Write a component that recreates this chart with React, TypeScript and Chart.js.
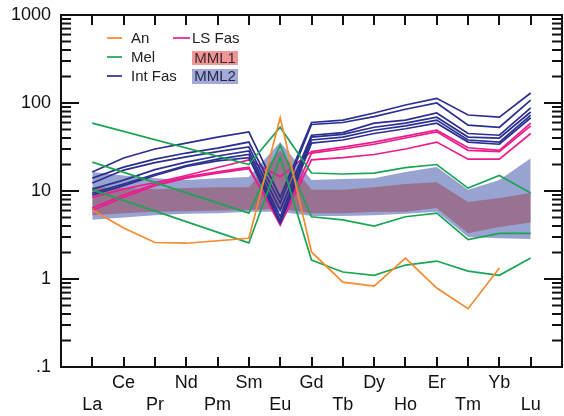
import React, { useEffect, useRef } from 'react';
import { Chart, registerables } from 'chart.js';

Chart.register(...registerables);

const elements = ['La', 'Ce', 'Pr', 'Nd', 'Pm', 'Sm', 'Eu', 'Gd', 'Tb', 'Dy', 'Ho', 'Er', 'Tm', 'Yb', 'Lu'];
const yTicks = [0.1, 1, 10, 100, 1000];
const yTickLabels = ['.1', '1', '10', '100', '1000'];

// An (orange)
const an1 = [6.1, 3.8, 2.6, 2.55, null, 2.9, 68, 2.03, 0.92, 0.83, 1.73, 0.79, 0.46, 1.33, null];

// Mel (green)
const mel1 = [59, null, null, null, null, 20, 53, 16, 15.6, 16, 18.4, 20, 10.8, 15, 9.5];
const mel2 = [21.3, null, null, null, null, 5.6, 33, 5.1, 4.7, 4.0, 5.1, 5.6, 2.8, 3.3, 3.3];
const mel3 = [10.3, null, null, null, null, 2.57, 24, 1.64, 1.2, 1.1, 1.44, 1.6, 1.23, 1.1, 1.73];

// Int Fas (blue)
const int1 = [16.4, 23.7, 30, 35, 41, 47, 8.5, 60, 64, 77, 95, 113, 73, 69, 130];
const int2 = [14, 18.7, 23, 27, 30.7, 36, 7.3, 57, 60, 70, 85, 100, 56, 53, 108];
const int3 = [12.3, 17.3, 21, 24.4, 28, 31.6, 6.1, 43, 46, 59, 64, 77, 45, 43, 88];
const int4 = [10.5, 13.3, 17.5, 21.3, 25, 28.5, 5.1, 41, 44, 53, 59, 69, 41, 40, 79];
const int5 = [9.5, 12, 15.5, 19.5, 23, 26, 4.6, 38, 41, 49, 55, 64, 38, 36, 73];
const int6 = [9, 11.5, 15, 19, 22, 24, 4.3, 35, 38, 45, 51, 59, 36, 34, 68];

// LS Fas (pink)
const ls1 = [8.5, 10.5, 12.5, 15, 18.5, 22.5, 14.5, 28, 31.5, 36, 42, 49, 31, 29, 59];
const ls2 = [6.4, 9, 12, 14.5, 16.5, 18.7, 4.1, 22.6, 24, 26, 30, 36, 23, 23, 45];
const ls3 = [6.0, 8.5, 11.5, 14, 16, 18, 4.4, 27, 30, 34, 40, 47, 29, 28, 55];

// MML1 / MML2 envelopes
const mml1Top = [11, 10.8, 10.5, 10.8, 11, 11, 29, 10.3, 10.3, 11, 12, 12.6, 7.5, 8.3, 9.5];
const mml1Bottom = [5.3, 5.6, 5.8, 5.9, 6.0, 6.1, 6.3, 5.6, 5.6, 5.8, 5.8, 6.4, 3.3, 3.9, 4.4];
const mml2Top = [16.4, 15, 14, 13.3, 14, 14.4, 36, 13.3, 13.7, 14, 16.4, 18.7, 10.3, 13.3, 23.6];
const mml2Bottom = [4.7, 5.0, 5.3, 5.5, 5.6, 5.8, 5.8, 5.2, 5.2, 5.3, 5.5, 5.8, 3.0, 2.9, 2.85];

const ORANGE = '#F58A2E';
const GREEN = '#1AA553';
const BLUE = '#2B2F8F';
const PINK = '#EC1C8C';
const MAUVE = 'rgb(153,113,145)';
const LIGHTBLUE = 'rgb(152,163,210)';
const FONT = "'Liberation Sans', Arial, Helvetica, sans-serif";

const toPts = (arr: (number | null)[]) => arr.map((v, i) => ({ x: i, y: v }));

const lineDs = (label: string, data: (number | null)[], color: string) => ({
  label,
  data: toPts(data),
  borderColor: color,
  borderWidth: 1.7,
  pointRadius: 0,
  fill: false,
  spanGaps: true,
  tension: 0,
});

const bandDs = (label: string, data: number[], fill: any, color: string) => ({
  label,
  data: toPts(data),
  borderColor: 'transparent',
  borderWidth: 0,
  pointRadius: 0,
  backgroundColor: color,
  fill,
  tension: 0,
});

const framePlugin = {
  id: 'frame',
  afterDraw(chart: any) {
    const { ctx, chartArea: a, scales } = chart;
    const x = scales.x;
    const y = scales.y;
    ctx.save();
    ctx.strokeStyle = '#111';
    ctx.lineCap = 'butt';
    const seg = (x1: number, y1: number, x2: number, y2: number) => {
      ctx.beginPath();
      ctx.moveTo(x1, y1);
      ctx.lineTo(x2, y2);
      ctx.stroke();
    };
    ctx.lineWidth = 2;
    ctx.strokeRect(a.left, a.top, a.right - a.left, a.bottom - a.top);
    ctx.lineWidth = 2;
    elements.forEach((_, i) => {
      const px = Math.round(x.getPixelForValue(i));
      seg(px, a.bottom, px, a.bottom - 10);
      seg(px, a.top, px, a.top + 10);
    });
    yTicks.forEach((d, di) => {
      const py = y.getPixelForValue(d);
      seg(a.left, py, a.left + 18, py);
      seg(a.right, py, a.right - 18, py);
      if (di < yTicks.length - 1) {
        for (let k = 2; k <= 9; k++) {
          const pm = y.getPixelForValue(d * k);
          seg(a.left, pm, a.left + 10, pm);
          seg(a.right, pm, a.right - 10, pm);
        }
      }
    });

    // legend
    const lx = a.left;
    const ly = a.top;
    ctx.font = `15px ${FONT}`;
    ctx.textBaseline = 'middle';
    ctx.textAlign = 'left';
    const items = [
      { t: 'An', c: ORANGE, row: 0 },
      { t: 'Mel', c: GREEN, row: 1 },
      { t: 'Int Fas', c: BLUE, row: 2 },
    ];
    items.forEach((it) => {
      const yy = ly + 23 + it.row * 19;
      ctx.strokeStyle = it.c;
      ctx.lineWidth = 1.7;
      seg(lx + 46, yy, lx + 61, yy);
      ctx.fillStyle = '#222';
      ctx.fillText(it.t, lx + 70, yy + 1);
    });
    ctx.strokeStyle = PINK;
    seg(lx + 112, ly + 23, lx + 129, ly + 23);
    ctx.fillStyle = '#222';
    ctx.fillText('LS Fas', lx + 131, ly + 24);

    ctx.fillStyle = 'rgb(240,150,150)';
    ctx.fillRect(lx + 131, ly + 36, 46, 14);
    ctx.fillStyle = 'rgb(163,170,216)';
    ctx.fillRect(lx + 131, ly + 54, 46, 15);
    ctx.fillStyle = '#3a2a2e';
    ctx.textAlign = 'center';
    ctx.fillText('MML1', lx + 154, ly + 43.5);
    ctx.fillStyle = '#262a4a';
    ctx.fillText('MML2', lx + 154, ly + 62);
    ctx.restore();
  },
};

export default function App() {
  const ref = useRef<HTMLCanvasElement>(null);
  useEffect(() => {
    if (!ref.current) return;
    const chart = new Chart(ref.current, {
      type: 'line',
      data: {
        datasets: [
          lineDs('An', an1, ORANGE),
          lineDs('Mel', mel1, GREEN),
          lineDs('Mel', mel2, GREEN),
          lineDs('Mel', mel3, GREEN),
          lineDs('Int Fas', int1, BLUE),
          lineDs('Int Fas', int2, BLUE),
          lineDs('Int Fas', int3, BLUE),
          lineDs('Int Fas', int4, BLUE),
          lineDs('Int Fas', int5, BLUE),
          lineDs('Int Fas', int6, BLUE),
          lineDs('LS Fas', ls1, PINK),
          lineDs('LS Fas', ls2, PINK),
          lineDs('LS Fas', ls3, PINK),
          bandDs('MML1', mml1Top, '+1', MAUVE),
          bandDs('MML1 low', mml1Bottom, false, 'transparent'),
          bandDs('MML2', mml2Top, '+1', LIGHTBLUE),
          bandDs('MML2 low', mml2Bottom, false, 'transparent'),
        ] as any,
      },
      options: {
        animation: false,
        responsive: false,
        maintainAspectRatio: false,
        layout: { padding: { left: 0, right: 2, top: 15, bottom: 0 } },
        plugins: {
          legend: { display: false },
          tooltip: { enabled: false },
        },
        scales: {
          x: {
            type: 'linear',
            min: -1,
            max: 15,
            grid: { display: false, drawTicks: false },
            border: { display: false },
            afterBuildTicks: (s: any) => {
              s.ticks = elements.map((_, i) => ({ value: i }));
            },
            afterFit: (s: any) => {
              s.height = 49;
              s.paddingLeft = 0;
              s.paddingRight = 0;
            },
            ticks: {
              autoSkip: false,
              maxRotation: 0,
              minRotation: 0,
              padding: 6,
              color: '#111',
              font: { family: FONT, size: 18, lineHeight: 1.17 },
              callback: (v: any) => {
                const i = Math.round(Number(v));
                const name = elements[i] ?? '';
                return i % 2 === 0 ? ['', name] : [name, ''];
              },
            },
          },
          y: {
            type: 'logarithmic',
            min: 0.1,
            max: 1000,
            grid: { display: false, drawTicks: false },
            border: { display: false },
            afterBuildTicks: (s: any) => {
              s.ticks = yTicks.map((v) => ({ value: v }));
            },
            afterFit: (s: any) => {
              s.width = 61;
              s.paddingTop = 0;
              s.paddingBottom = 0;
            },
            ticks: {
              padding: 10,
              color: '#111',
              font: { family: FONT, size: 18 },
              callback: (v: any) => {
                const idx = yTicks.findIndex((t) => Math.abs(t - Number(v)) < 1e-9 * Math.max(1, t));
                return idx >= 0 ? yTickLabels[idx] : '';
              },
            },
          },
        },
      },
      plugins: [framePlugin],
    });
    return () => chart.destroy();
  }, []);
  return (
    <div style={{ position: 'absolute', left: 0, top: 0, width: 564, height: 416, background: '#fff' }}>
      <canvas ref={ref} width={564} height={416} style={{ width: 564, height: 416, display: 'block' }} />
    </div>
  );
}
